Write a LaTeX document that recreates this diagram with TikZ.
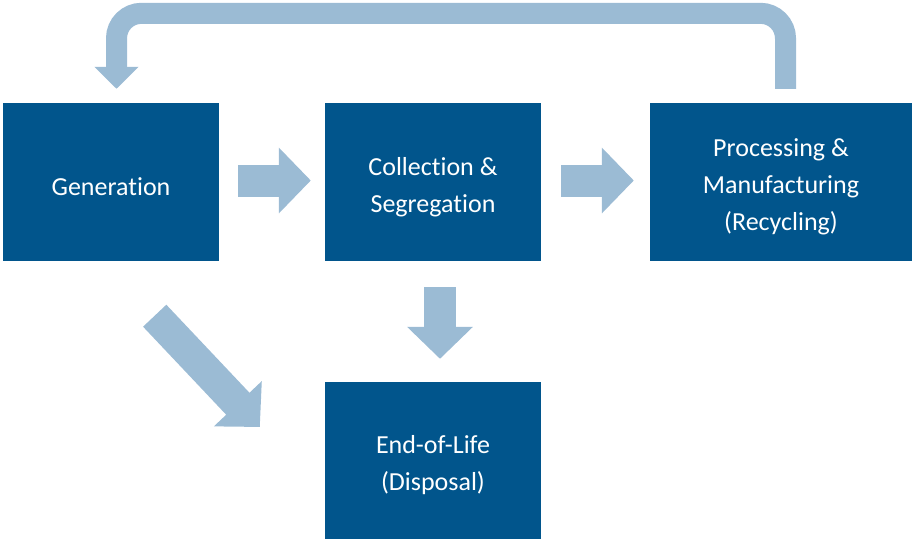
\documentclass[tikz,border=0pt]{standalone}
\usepackage{fontspec}
\setmainfont{Carlito}[Ligatures=NoCommon]
\usetikzlibrary{arrows.meta}
\definecolor{boxblue}{RGB}{1,85,140}
\definecolor{flowblue}{RGB}{155,187,212}
\begin{document}
\begin{tikzpicture}[x=1pt, y=-1pt,
        stage/.style={fill=boxblue, text=white, inner sep=0pt, align=flush center,
            text width=216pt, minimum height=158pt,
            font=\fontsize{26}{37}\selectfont,
            execute at begin node=\rule{0pt}{28pt}},
        flow/.style={draw=flowblue, line width=32pt,
            -{Triangle[width=64pt, length=32pt]}},
        back/.style={draw=flowblue, line width=21pt, rounded corners=25pt,
            -{Triangle[width=43pt, length=22pt]}}]
            \useasboundingbox (0,0) rectangle (912,539);

            \node (gen) at (111,182) [stage] {Generation};
            \node (coll) at (433,182) [stage] {Collection \&\\Segregation};
            \node (proc) at (781,182) [stage, minimum width=262pt] {Processing \&\\Manufacturing\\(Recycling)};
            \node (eol) at (433,460.5) [stage, minimum height=157pt] {End-of-Life\\(Disposal)};

            \draw[flow, shorten <=19pt, shorten >=14pt] ([yshift=1.5pt]gen.east) -- ([yshift=1.5pt]coll.west);
            \draw[flow, shorten <=20pt, shorten >=16pt] ([yshift=1.5pt]coll.east) -- ([yshift=1.5pt]proc.west);
            \draw[flow, shorten <=26pt, shorten >=23pt] ([xshift=7pt]coll.south) -- ([xshift=7pt]eol.north);
            \draw[flow] ([shift={(-64.5,54.5)}]gen.south east) -- ([shift={(-65,-33.5)}]eol.west);
            \draw[back, shorten <=14pt, shorten >=14pt] ([xshift=4.5pt]proc.north) -- ++(0,-89.5) -| ([xshift=5.5pt]gen.north);
        \end{tikzpicture}
\end{document}
